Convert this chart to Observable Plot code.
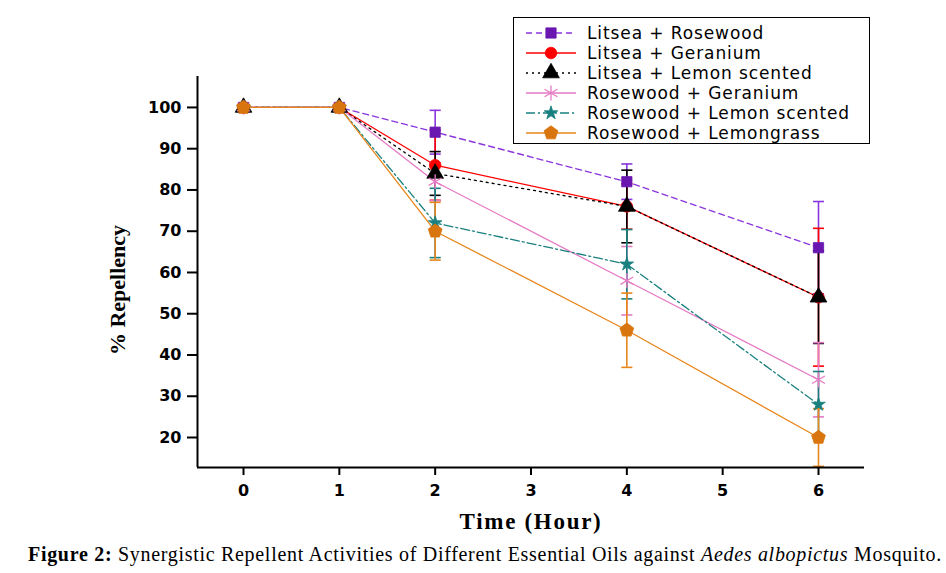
<!DOCTYPE html>
<html><head><meta charset="utf-8">
<script src="https://cdn.jsdelivr.net/npm/d3@7"></script>
<script src="https://cdn.jsdelivr.net/npm/@observablehq/plot@0.6"></script>
<style>
body{margin:0;background:#fff;width:946px;height:573px;overflow:hidden;position:relative;}
#legend{position:absolute;left:513px;top:17px;width:357px;height:127px;border:1.5px solid #000;background:#fff;box-sizing:border-box;}
.lrow{position:absolute;left:0;height:20px;width:350px;}
.lrow svg{position:absolute;left:10px;top:0;}
.lrow span{position:absolute;left:73px;top:0;line-height:20px;font-family:"DejaVu Sans";font-size:17px;letter-spacing:0.9px;white-space:nowrap;color:#000;}
#ylab{position:absolute;left:118px;top:290px;transform:translate(-50%,-50%) rotate(-90deg);font-family:"Liberation Serif";font-weight:bold;font-size:22px;white-space:nowrap;}
#xlab{position:absolute;left:531px;top:522px;transform:translate(-50%,-50%);font-family:"Liberation Serif";font-weight:bold;font-size:23px;letter-spacing:1.7px;white-space:nowrap;}
#caption{position:absolute;left:28px;top:543px;font-family:"Liberation Serif";font-size:20px;letter-spacing:0.7px;white-space:nowrap;color:#000;}
</style></head>
<body>
<div id="chart"></div>
<div id="legend"></div>
<div id="ylab">% Repellency</div>
<div id="xlab">Time (Hour)</div>
<div id="caption"><b>Figure 2:</b> Synergistic Repellent Activities of Different Essential Oils against <i>Aedes albopictus</i> Mosquito.</div>
<script>
const hours = [0, 1, 2, 4, 6];
const xTicks = [0, 1, 2, 3, 4, 5, 6];
const yTicks = [20, 30, 40, 50, 60, 70, 80, 90, 100];
const seriesNames = ["Litsea + Rosewood", "Litsea + Geranium", "Litsea + Lemon scented", "Rosewood + Geranium", "Rosewood + Lemon scented", "Rosewood + Lemongrass"];
const litseaRosewood = [100, 100, 94, 82, 66];
const litseaRosewoodErr = [0, 0, 5.3, 4.3, 11.2];
const litseaGeranium = [100, 100, 86, 76, 54];
const litseaGeraniumErr = [0, 0, 8.5, 5.5, 16.7];
const litseaLemon = [100, 100, 84, 76, 54];
const litseaLemonErr = [0, 0, 5.3, 8.8, 11.2];
const rosewoodGeranium = [100, 100, 82, 58, 34];
const rosewoodGeraniumErr = [0, 0, 4.6, 8.3, 9];
const rosewoodLemon = [100, 100, 72, 62, 28];
const rosewoodLemonErr = [0, 0, 8.4, 8.4, 8];
const rosewoodLemongrass = [100, 100, 70, 46, 20];
const rosewoodLemongrassErr = [0, 0, 7, 9, 7];

const pentagon = {draw(ctx, size) {
  const R = Math.sqrt(size / 2.378);
  for (let i = 0; i < 5; i++) {
    const a = -Math.PI / 2 + i * 2 * Math.PI / 5;
    const px = R * Math.cos(a), py = R * Math.sin(a);
    if (i === 0) ctx.moveTo(px, py); else ctx.lineTo(px, py);
  }
  ctx.closePath();
}};

const styles = [
  {values: litseaRosewood, errs: litseaRosewoodErr, line: "#8a35dd", mark: "#6a16b0", dash: "6,4", symbol: d3.symbolSquare, r: 5.8, filled: true},
  {values: litseaGeranium, errs: litseaGeraniumErr, line: "#ff0000", mark: "#ff0000", dash: null, symbol: d3.symbolCircle, r: 5.8, filled: true},
  {values: litseaLemon, errs: litseaLemonErr, line: "#000000", mark: "#000000", dash: "2,4", symbol: d3.symbolTriangle, r: 6.2, filled: true},
  {values: rosewoodGeranium, errs: rosewoodGeraniumErr, line: "#e57ac4", mark: "#e57ac4", dash: null, symbol: d3.symbolAsterisk, r: 7, filled: false},
  {values: rosewoodLemon, errs: rosewoodLemonErr, line: "#19807f", mark: "#19807f", dash: "9,3,2,3", symbol: d3.symbolStar, r: 4.3, filled: true},
  {values: rosewoodLemongrass, errs: rosewoodLemongrassErr, line: "#e8861c", mark: "#d9750e", dash: null, symbol: pentagon, r: 6.3, filled: true}
];

const xDomain = [-0.48, 6.48];
const yDomain = [12.73, 107.5];
const capHalf = 0.058;

const marks = [];
const series = styles.map((s, i) => hours.map((h, j) => ({name: seriesNames[i], hour: h, value: s.values[j], err: s.errs[j]})));

series.forEach((rows, i) => {
  const s = styles[i];
  marks.push(Plot.line(rows, {x: "hour", y: "value", stroke: s.line, strokeWidth: 1.3, strokeDasharray: s.dash}));
});
series.forEach((rows, i) => {
  const s = styles[i];
  const e = rows.filter(d => d.err > 0);
  marks.push(Plot.ruleX(e, {x: "hour", y1: d => d.value - d.err, y2: d => d.value + d.err, stroke: s.line, strokeWidth: 1.6}));
  marks.push(Plot.link(e, {x1: d => d.hour - capHalf, x2: d => d.hour + capHalf, y1: d => d.value + d.err, y2: d => d.value + d.err, stroke: s.line, strokeWidth: 1.6}));
  marks.push(Plot.link(e, {x1: d => d.hour - capHalf, x2: d => d.hour + capHalf, y1: d => d.value - d.err, y2: d => d.value - d.err, stroke: s.line, strokeWidth: 1.6}));
});
series.forEach((rows, i) => {
  const s = styles[i];
  marks.push(Plot.dot(rows, {x: "hour", y: "value", symbol: s.symbol, r: s.r,
    fill: s.filled ? s.mark : "none", stroke: s.mark, strokeWidth: s.filled ? 0.8 : 1.3}));
});

marks.push(Plot.ruleY([yDomain[0]], {stroke: "#000", strokeWidth: 2}));
marks.push(Plot.ruleX([xDomain[0]], {stroke: "#000", strokeWidth: 2}));
marks.push(Plot.axisX({ticks: xTicks, tickFormat: d3.format("d"), tickSize: 8, tickPadding: 9, label: null, stroke: "#000", strokeWidth: 2, fill: "#000"}));
marks.push(Plot.axisY({ticks: yTicks, tickFormat: d3.format("d"), tickSize: 10, tickPadding: 6, label: null, stroke: "#000", strokeWidth: 2, fill: "#000"}));

const chart = Plot.plot({
  width: 946, height: 543,
  marginLeft: 197, marginRight: 82, marginTop: 76, marginBottom: 76,
  x: {domain: xDomain},
  y: {domain: yDomain},
  style: {fontFamily: "DejaVu Sans", fontSize: "16px", fontWeight: "bold", background: "#fff", color: "#000"},
  marks
});
document.getElementById("chart").appendChild(chart);

// legend
const legend = d3.select("#legend");
styles.forEach((s, i) => {
  const row = legend.append("div").attr("class", "lrow").style("top", (4.7 + 20 * i) + "px");
  const svg = row.append("svg").attr("width", 56).attr("height", 20);
  svg.append("line").attr("x1", 2).attr("x2", 52).attr("y1", 10).attr("y2", 10)
    .attr("stroke", s.line).attr("stroke-width", 1.3).attr("stroke-dasharray", s.dash);
  svg.append("path").attr("transform", "translate(27,10)")
    .attr("d", d3.symbol(s.symbol, s.r * s.r * Math.PI)())
    .attr("fill", s.filled ? s.mark : "none").attr("stroke", s.mark).attr("stroke-width", s.filled ? 0.8 : 1.3);
  row.append("span").text(seriesNames[i]);
});
</script>
</body></html>
